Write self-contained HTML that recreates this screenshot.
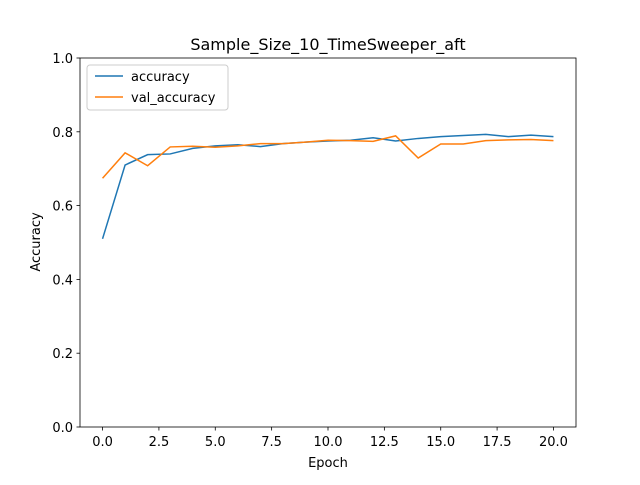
<!DOCTYPE html>
<html><head><meta charset="utf-8"><style>
body{margin:0;background:#fff;}
svg text{font-family:"DejaVu Sans","Liberation Sans",sans-serif;}
</style></head><body>
<svg id="chart" width="640" height="480" xmlns="http://www.w3.org/2000/svg">
<rect width="640" height="480" fill="#fff"/>
<text x="328" y="50" font-size="16" text-anchor="middle">Sample_Size_10_TimeSweeper_aft</text>
<g id="plot"></g>
<rect x="80" y="58" width="496" height="369" fill="none" stroke="#000" stroke-width="0.8"/>
<text x="328" y="467" font-size="13" text-anchor="middle">Epoch</text>
<text transform="translate(40,242) rotate(-90)" font-size="13" text-anchor="middle">Accuracy</text>
<g>
<rect x="87" y="65" width="141" height="45" rx="3" fill="#fff" fill-opacity="0.8" stroke="#ccc"/>
<line x1="95" y1="76" x2="123" y2="76" stroke="#1f77b4" stroke-width="1.5"/>
<text x="131" y="81" font-size="13">accuracy</text>
<line x1="95" y1="97" x2="123" y2="97" stroke="#ff7f0e" stroke-width="1.5"/>
<text x="131" y="102" font-size="13">val_accuracy</text>
</g>
</svg>
<script>
const epochs=[0,1,2,3,4,5,6,7,8,9,10,11,12,13,14,15,16,17,18,19,20];
const accuracy=[0.51,0.71,0.738,0.74,0.755,0.762,0.765,0.76,0.768,0.772,0.775,0.777,0.784,0.775,0.782,0.787,0.79,0.793,0.787,0.791,0.787];
const valAccuracy=[0.674,0.743,0.708,0.759,0.761,0.758,0.762,0.768,0.768,0.772,0.777,0.776,0.774,0.789,0.729,0.767,0.767,0.776,0.778,0.779,0.776];
const xTicks=[0,2.5,5,7.5,10,12.5,15,17.5,20];
const xTickLabels=["0.0","2.5","5.0","7.5","10.0","12.5","15.0","17.5","20.0"];
const yTicks=[0,0.2,0.4,0.6,0.8,1.0];
const yTickLabels=["0.0","0.2","0.4","0.6","0.8","1.0"];
const NS="http://www.w3.org/2000/svg";
const L=80,R=576,T=58,B=427;
const sx=v=>L+(v+1)/22*(R-L);
const sy=v=>B-v*(B-T);
const g=document.getElementById('plot');
function mk(t,a){const e=document.createElementNS(NS,t);for(const k in a)e.setAttribute(k,a[k]);g.appendChild(e);return e;}
xTicks.forEach((v,i)=>{
 const l=mk('line',{x1:sx(v),x2:sx(v),y1:B,y2:B+3.5,stroke:'#000','stroke-width':0.8});
 
 
 const t=mk('text',{x:sx(v),y:B+19,'font-size':13,'text-anchor':'middle'});
 t.textContent=xTickLabels[i];
 
 
});
yTicks.forEach((v,i)=>{
 const l=mk('line',{x1:L-3.5,x2:L,y1:sy(v),y2:sy(v),stroke:'#000','stroke-width':0.8});
 
 
 const t=mk('text',{x:L-7,y:sy(v)+5,'font-size':13,'text-anchor':'end'});
 t.textContent=yTickLabels[i];
 
 
});
function series(vals,color,name){
 const p=mk('polyline',{points:vals.map((v,i)=>sx(epochs[i])+','+sy(v)).join(' '),fill:'none',stroke:color,'stroke-width':1.5});
 
 
}
series(accuracy,'#1f77b4','accuracy-line');
series(valAccuracy,'#ff7f0e','val-accuracy-line');
</script>
</body></html>
